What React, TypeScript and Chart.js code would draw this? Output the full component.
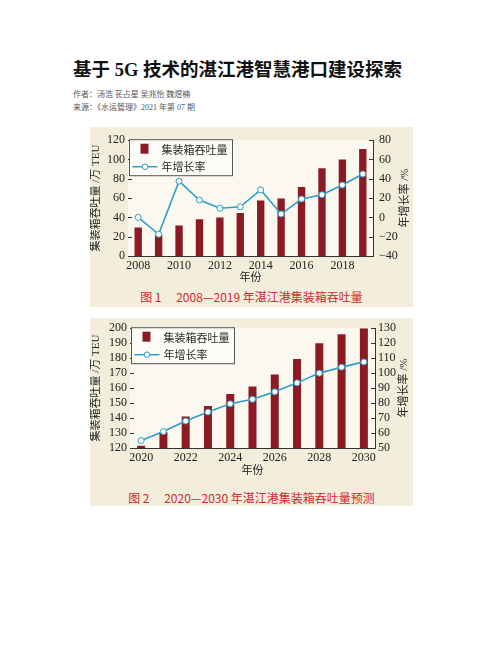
import React, { useEffect, useRef } from 'react';
import { Chart, registerables } from 'chart.js';
Chart.register(...registerables);

// ---------- data ----------
const years1 = ['2008', '2009', '2010', '2011', '2012', '2013', '2014', '2015', '2016', '2017', '2018', '2019'];
const throughput1 = [29.5, 21.5, 31.5, 38, 40, 44.5, 57.5, 59.5, 71.5, 91, 100, 111];
const growth1 = [0, -17.5, 37.5, 18, 9.5, 11, 28.5, 3.5, 19, 23.5, 33.5, 45];

const years2 = ['2020', '2021', '2022', '2023', '2024', '2025', '2026', '2027', '2028', '2029', '2030'];
const throughput2 = [121.5, 130.5, 141, 148, 156, 161, 169, 179.5, 190, 196, 200];
const growth2 = [55, 61, 68, 74, 79.5, 82.5, 87.5, 93.5, 100, 104, 107.5];

const barLabel = '集装箱吞吐量';
const lineLabel = '年增长率';
const leftTitle = '集装箱吞吐量 /万 TEU';
const rightTitle = '年增长率 /%';
const xTitle = '年份';

const pageTitle = '基于 5G 技术的湛江港智慧港口建设探索';
const authorLine = '作者：汤浩 苌占星 吴兆怡 魏煜楠';
const sourceLine = '来源：《水运管理》2021 年第 07 期';
const caption1 = '图 1\u3000 2008—2019 年湛江港集装箱吞吐量';
const caption2 = '图 2\u3000 2020—2030 年湛江港集装箱吞吐量预测';

// ---------- styling ----------
const FONT = '"Liberation Serif", "Noto Sans CJK SC", serif';
const CJK = '"Noto Sans CJK SC", sans-serif';
const BAR = '#8c1a24';
const LINE = '#2b9fc6';
const PANEL = '#f3eddc';
const PLOT = '#faf8ef';
const AXIS = '#333333';

const plotPlugin = {
  id: 'plotDecor',
  beforeDatasetsDraw(chart: any) {
    const { ctx, chartArea: a } = chart;
    ctx.save();
    ctx.fillStyle = PLOT;
    ctx.fillRect(a.left, a.top, a.right - a.left, a.bottom - a.top);
    ctx.restore();
  },
  afterDraw(chart: any) {
    const { ctx, chartArea: a } = chart;
    const po = chart.options.plugins.plotDecor || {};
    ctx.save();
    ctx.strokeStyle = AXIS;
    ctx.lineWidth = 1;
    // inward ticks
    for (const id of ['y', 'y1']) {
      const s = chart.scales[id];
      s.ticks.forEach((t: any) => {
        const py = Math.round(s.getPixelForValue(t.value)) + 0.5;
        ctx.beginPath();
        if (id === 'y') {
          ctx.moveTo(a.left, py);
          ctx.lineTo(a.left + 4, py);
        } else {
          ctx.moveTo(a.right, py);
          ctx.lineTo(a.right - 4, py);
        }
        ctx.stroke();
      });
    }
    // right axis title, reading bottom-to-top
    ctx.save();
    ctx.translate(po.rtX, (a.top + a.bottom) / 2);
    ctx.rotate(-Math.PI / 2);
    ctx.fillStyle = '#222';
    ctx.font = '11px ' + FONT;
    ctx.textAlign = 'center';
    ctx.textBaseline = 'middle';
    ctx.fillText(po.rightTitle, 0, 0);
    ctx.restore();
    // legend box
    const ds = chart.data.datasets;
    const barDs = ds.find((d: any) => d.type === 'bar');
    const lineDs = ds.find((d: any) => d.type === 'line');
    const bx = a.left + 1.5;
    const by = a.top - 0.5;
    const bw = 103;
    const bh = 36;
    ctx.fillStyle = '#fdfcf7';
    ctx.fillRect(bx, by, bw, bh);
    ctx.strokeStyle = '#555';
    ctx.strokeRect(bx, by, bw, bh);
    ctx.fillStyle = BAR;
    ctx.fillRect(bx + 11, by + 4, 8, 10);
    ctx.strokeStyle = LINE;
    ctx.lineWidth = 1.5;
    ctx.beginPath();
    ctx.moveTo(bx + 3, by + 27);
    ctx.lineTo(bx + 28, by + 27);
    ctx.stroke();
    ctx.beginPath();
    ctx.arc(bx + 15.5, by + 27, 2.8, 0, Math.PI * 2);
    ctx.fillStyle = '#ffffff';
    ctx.fill();
    ctx.lineWidth = 1;
    ctx.stroke();
    ctx.fillStyle = '#2a2a2a';
    ctx.font = '11px ' + CJK;
    ctx.textBaseline = 'middle';
    ctx.textAlign = 'left';
    ctx.fillText(barDs.label, bx + 32, by + 10);
    ctx.fillText(lineDs.label, bx + 32, by + 27);
    ctx.restore();
  },
};

const minusFmt = (v: any) => (Number(v) < 0 ? '−' + Math.abs(Number(v)) : String(v));

function makeConfig(p: any) {
  const tickFont = { family: FONT, size: 12 };
  const titleFont = { family: FONT, size: 11 };
  return {
    type: 'bar',
    data: {
      labels: p.labels,
      datasets: [
        {
          type: 'line',
          label: lineLabel,
          data: p.line,
          yAxisID: 'y1',
          borderColor: LINE,
          borderWidth: 1.6,
          pointRadius: 3,
          pointBackgroundColor: '#ffffff',
          pointBorderColor: LINE,
          pointBorderWidth: 1,
          tension: 0,
          order: 0,
        },
        {
          type: 'bar',
          label: barLabel,
          data: p.bars,
          yAxisID: 'y',
          backgroundColor: BAR,
          borderWidth: 0,
          categoryPercentage: 1,
          barPercentage: p.barPct,
          order: 1,
        },
      ],
    },
    options: {
      animation: false,
      responsive: false,
      maintainAspectRatio: false,
      layout: { padding: { top: p.padTop, left: 0, right: 0, bottom: 0 } },
      plugins: {
        legend: { display: false },
        tooltip: { enabled: false },
        plotDecor: { rtX: p.rtX, rightTitle },
      },
      scales: {
        x: {
          offset: true,
          grid: { display: false, drawTicks: false },
          border: { display: true, color: AXIS, width: 1 },
          ticks: {
            color: '#222',
            font: tickFont,
            padding: 3,
            autoSkip: false,
            maxRotation: 0,
            callback: (_v: any, i: number) => (i % 2 === 0 ? p.labels[i] : ''),
          },
          title: { display: true, text: xTitle, color: '#222', font: titleFont, padding: { top: 0, bottom: 2 } },
          afterFit: (s: any) => { s.height = p.xH; },
        },
        y: {
          position: 'left',
          min: p.yMin,
          max: p.yMax,
          grid: { display: false, drawTicks: false },
          border: { display: true, color: AXIS, width: 1 },
          ticks: { stepSize: p.yStep, autoSkip: false, color: '#222', font: tickFont, padding: 3 },
          title: { display: true, text: leftTitle, color: '#222', font: titleFont, padding: { top: 0, bottom: 0 } },
          afterFit: (s: any) => { s.width = p.yLW; },
        },
        y1: {
          position: 'right',
          min: p.y1Min,
          max: p.y1Max,
          grid: { display: false, drawTicks: false },
          border: { display: true, color: AXIS, width: 1 },
          ticks: { stepSize: p.y1Step, autoSkip: false, color: '#222', font: tickFont, padding: p.rPad, callback: minusFmt },
          title: { display: false },
          afterFit: (s: any) => { s.width = p.yRW; },
        },
      },
    },
    plugins: [plotPlugin],
  };
}

function ChartCanvas(props: { cfg: any; w: number; h: number; style: any }) {
  const ref = useRef<HTMLCanvasElement>(null);
  useEffect(() => {
    if (!ref.current) return;
    const c = new Chart(ref.current, props.cfg);
    return () => c.destroy();
  }, []);
  return <canvas ref={ref} width={props.w} height={props.h} style={{ position: 'absolute', width: props.w, height: props.h, ...props.style }} />;
}

export default function App() {
  const cfg1 = makeConfig({
    labels: years1, bars: throughput1, line: growth1, barPct: 0.36,
    yMin: 0, yMax: 120, yStep: 20, y1Min: -40, y1Max: 80, y1Step: 20,
    padTop: 8, xH: 31, yLW: 38, yRW: 40, rtX: 315, rPad: 6,
  });
  const cfg2 = makeConfig({
    labels: years2, bars: throughput2, line: growth2, barPct: 0.36,
    yMin: 120, yMax: 200, yStep: 10, y1Min: 50, y1Max: 130, y1Step: 10,
    padTop: 10, xH: 32, yLW: 40, yRW: 38, rtX: 314, rPad: 3,
  });
  const captionStyle: any = {
    position: 'absolute', left: 90, width: 323, textAlign: 'center', color: '#d22a30',
    fontFamily: CJK, fontSize: 12, lineHeight: '14px', whiteSpace: 'pre',
  };
  return (
    <div style={{ position: 'absolute', left: 0, top: 0, width: 502, height: 649, background: '#ffffff', overflow: 'hidden' }}>
      <div style={{ position: 'absolute', left: 73, top: 59, fontFamily: '"Liberation Serif", "Noto Sans CJK SC", serif', fontWeight: 'bold', fontSize: 18.5, lineHeight: '22px', color: '#111', whiteSpace: 'nowrap' }}>{pageTitle}</div>
      <div style={{ position: 'absolute', left: 73, top: 89, fontFamily: CJK, fontSize: 8, lineHeight: '10px', color: '#555', whiteSpace: 'nowrap' }}>{authorLine}</div>
      <div style={{ position: 'absolute', left: 73, top: 103, fontFamily: '"Liberation Serif", "Noto Sans CJK SC", serif', fontSize: 8, lineHeight: '10px', color: '#555', whiteSpace: 'nowrap' }}>{sourceLine}</div>

      <div style={{ position: 'absolute', left: 90, top: 127, width: 323, height: 180, background: PANEL }} />
      <ChartCanvas cfg={cfg1} w={323} h={160} style={{ left: 90, top: 127 }} />
      <div style={{ ...captionStyle, top: 290 }}>{caption1}</div>

      <div style={{ position: 'absolute', left: 90, top: 318, width: 323, height: 188, background: PANEL }} />
      <ChartCanvas cfg={cfg2} w={323} h={162} style={{ left: 90, top: 318 }} />
      <div style={{ ...captionStyle, top: 491 }}>{caption2}</div>
    </div>
  );
}
